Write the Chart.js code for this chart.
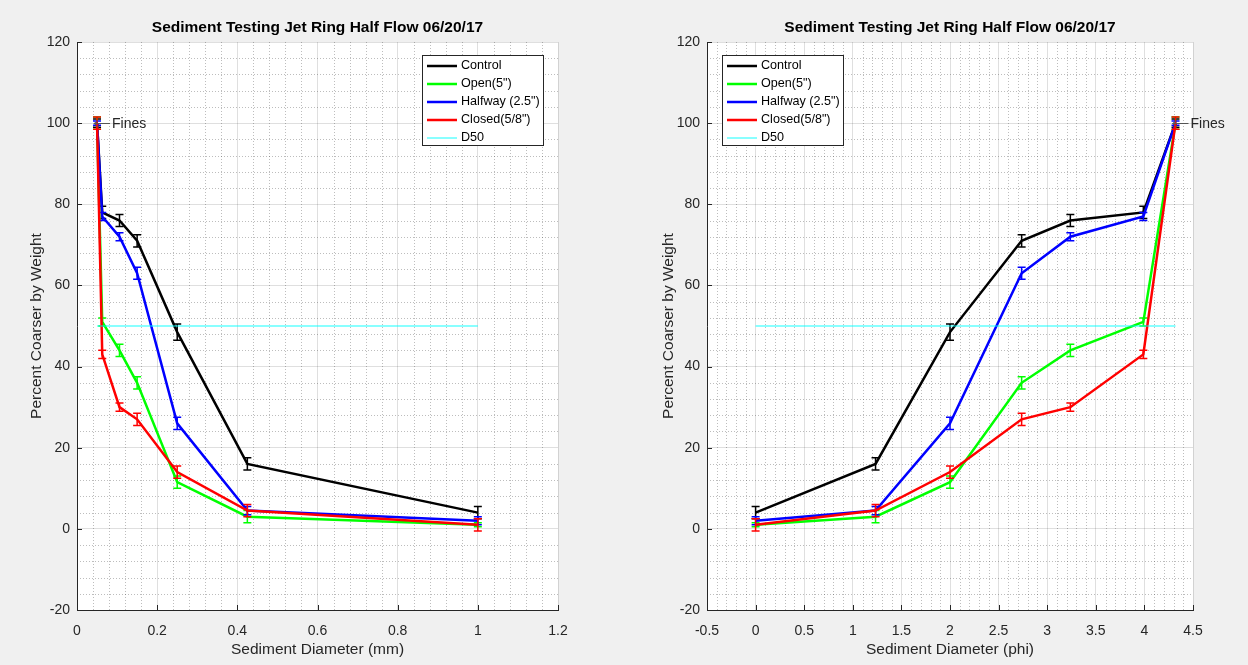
<!DOCTYPE html>
<html>
<head>
<meta charset="utf-8">
<title>Sediment Testing Jet Ring Half Flow 06/20/17</title>
<script src="https://cdn.jsdelivr.net/npm/chart.js@4/dist/chart.umd.min.js"></script>
<style>
  html, body { margin: 0; padding: 0; background: #f0f0f0; }
  #wrap { position: relative; width: 1248px; height: 665px; overflow: hidden; }
  canvas { position: absolute; top: 0; }
  #mmChart { left: 0; }
  #phiChart { left: 624px; }
</style>
</head>
<body>
<div id="wrap">
  <canvas id="mmChart" width="624" height="665" style="width:624px;height:665px"></canvas>
  <canvas id="phiChart" width="624" height="665" style="width:624px;height:665px"></canvas>
</div>
<script>
// Sieve sizes: millimetres and the matching phi values (phi = -log2 d)
const sizeMm  = [1, 0.425, 0.25, 0.15, 0.106, 0.063, 0.05];
const sizePhi = [0, 1.234, 2, 2.737, 3.238, 3.989, 4.32];

// Percent coarser by weight for each jet ring setting
const controlPct = [4, 16, 48.5, 71, 76, 78, 100];
const openPct    = [1, 3, 11.5, 36, 44, 51, 100];
const halfwayPct = [2, 4.5, 26, 63, 72, 77, 100];
const closedPct  = [1, 4.5, 14, 27, 30, 43, 100];

// Error bar half-lengths (percent)
const controlErr = [1.5, 1.5, 2, 1.5, 1.5, 1.5, 1];
const openErr    = [0.5, 1.5, 1.5, 1.5, 1.5, 1, 1.5];
const halfwayErr = [1, 1, 1.5, 1.5, 1, 1, 0.5];
const closedErr  = [1.5, 1.5, 1.5, 1.5, 1, 1, 1.5];

const seriesLabels = ['Control', 'Open(5")', 'Halfway (2.5")', 'Closed(5/8")', 'D50'];
const d50Value = 50;
const chartTitle = 'Sediment Testing Jet Ring Half Flow 06/20/17';

// Axis tick settings
const yTicks   = { min: -20, max: 120, step: 20, minor: 4 };
const mmTicks  = { min: 0, max: 1.2, step: 0.2, minor: 0.04 };
const phiTicks = { min: -0.5, max: 4.5, step: 0.5, minor: 0.1 };

const FONT = "'Liberation Sans', Arial, Helvetica, sans-serif";
const AXIS_COLOR = '#262626';
Chart.defaults.font.family = FONT;

// White plot area on a grey figure background
const plotBg = {
  id: 'plotBg',
  beforeDraw(chart) {
    const { ctx, chartArea: a } = chart;
    ctx.save();
    ctx.fillStyle = '#f0f0f0';
    ctx.fillRect(0, 0, chart.width, chart.height);
    ctx.fillStyle = '#ffffff';
    ctx.fillRect(a.left, a.top, a.right - a.left, a.bottom - a.top);
    ctx.restore();
  }
};

// Bold title centred over the plot area
const axesTitle = {
  id: 'axesTitle',
  afterDraw(chart, args, opts) {
    const { ctx, chartArea: a } = chart;
    ctx.save();
    ctx.font = 'bold 15.5px ' + FONT;
    ctx.fillStyle = '#000000';
    ctx.textAlign = 'center';
    ctx.textBaseline = 'middle';
    ctx.fillText(opts.text, (a.left + a.right) / 2, 28);
    ctx.restore();
  }
};

// Dotted minor grid and inward tick marks
const minorGrid = {
  id: 'minorGrid',
  beforeDatasetsDraw(chart, args, opts) {
    const { ctx, chartArea: a } = chart;
    const xs = chart.scales.x, ys = chart.scales.y;
    ctx.save();
    ctx.strokeStyle = 'rgba(38,38,38,0.3)';
    ctx.lineWidth = 1;
    ctx.setLineDash([1, 2]);
    const each = (scale, minor, major, fn) => {
      const n = Math.round((scale.max - scale.min) / minor);
      for (let i = 0; i <= n; i++) {
        const v = scale.min + i * minor;
        const r = (v - scale.min) / major;
        if (Math.abs(r - Math.round(r)) < 1e-6) continue;
        fn(Math.round(scale.getPixelForValue(v)) + 0.5);
      }
    };
    ctx.beginPath();
    each(xs, opts.xMinor, opts.xMajor, p => { ctx.moveTo(p, a.top); ctx.lineTo(p, a.bottom); });
    each(ys, opts.yMinor, opts.yMajor, p => { ctx.moveTo(a.left, p); ctx.lineTo(a.right, p); });
    ctx.stroke();
    // inward ticks on the left and bottom axes
    ctx.setLineDash([]);
    ctx.strokeStyle = AXIS_COLOR;
    ctx.beginPath();
    xs.ticks.forEach(t => {
      const p = Math.round(xs.getPixelForValue(t.value)) + 0.5;
      ctx.moveTo(p, a.bottom); ctx.lineTo(p, a.bottom - 5);
    });
    ys.ticks.forEach(t => {
      const p = Math.round(ys.getPixelForValue(t.value)) + 0.5;
      ctx.moveTo(a.left, p); ctx.lineTo(a.left + 5, p);
    });
    ctx.stroke();
    ctx.restore();
  }
};

// Vertical error bars with caps, drawn with each series
const errorBars = {
  id: 'errorBars',
  afterDatasetDraw(chart, args) {
    const ds = chart.data.datasets[args.index];
    if (!ds.errors) return;
    const { ctx } = chart;
    const ys = chart.scales.y;
    ctx.save();
    ctx.strokeStyle = ds.borderColor;
    ctx.lineWidth = 1.5;
    ctx.beginPath();
    args.meta.data.forEach((pt, i) => {
      const v = ds.data[i].y, e = ds.errors[i];
      const top = ys.getPixelForValue(v + e), bot = ys.getPixelForValue(v - e);
      ctx.moveTo(pt.x, top); ctx.lineTo(pt.x, bot);
      ctx.moveTo(pt.x - 4, top); ctx.lineTo(pt.x + 4, top);
      ctx.moveTo(pt.x - 4, bot); ctx.lineTo(pt.x + 4, bot);
    });
    ctx.stroke();
    ctx.restore();
  }
};

// Arrow and "Fines" note beside the fines point
const finesNote = {
  id: 'finesNote',
  afterDraw(chart, args, opts) {
    const { ctx } = chart;
    const px = chart.scales.x.getPixelForValue(opts.x);
    const py = Math.round(chart.scales.y.getPixelForValue(opts.y)) + 0.5;
    ctx.save();
    ctx.strokeStyle = '#555555';
    ctx.lineWidth = 1;
    ctx.beginPath();
    ctx.moveTo(px - 3, py); ctx.lineTo(px + 13, py);
    ctx.moveTo(px - 3, py); ctx.lineTo(px + 1, py - 3);
    ctx.moveTo(px - 3, py); ctx.lineTo(px + 1, py + 3);
    ctx.stroke();
    ctx.font = '14px ' + FONT;
    ctx.fillStyle = AXIS_COLOR;
    ctx.textAlign = 'left';
    ctx.textBaseline = 'middle';
    ctx.fillText(opts.text, px + 15, py + 1);
    ctx.restore();
  }
};

// Boxed legend inside the plot area
const boxLegend = {
  id: 'boxLegend',
  afterDraw(chart, args, opts) {
    const { ctx } = chart;
    const x0 = opts.x, y0 = opts.y, w = 121, rowH = 18;
    const items = chart.data.datasets;
    const h = items.length * rowH;
    ctx.save();
    ctx.fillStyle = '#ffffff';
    ctx.fillRect(x0, y0, w, h);
    ctx.strokeStyle = AXIS_COLOR;
    ctx.lineWidth = 1;
    ctx.strokeRect(x0 + 0.5, y0 + 0.5, w, h);
    ctx.font = '12.6px ' + FONT;
    ctx.textBaseline = 'middle';
    ctx.textAlign = 'left';
    items.forEach((ds, i) => {
      const cy = y0 + 11 + i * rowH;
      ctx.strokeStyle = ds.borderColor;
      ctx.lineWidth = ds.borderWidth;
      ctx.beginPath();
      ctx.moveTo(x0 + 5, cy); ctx.lineTo(x0 + 35, cy);
      ctx.stroke();
      ctx.fillStyle = '#000000';
      ctx.fillText(ds.label, x0 + 39, cy);
    });
    ctx.restore();
  }
};

function series(label, color, xs, values, errors, order) {
  return {
    label, borderColor: color, backgroundColor: color,
    data: xs.map((x, i) => ({ x, y: values[i] })),
    errors, borderWidth: 2.5, pointRadius: 0, tension: 0, order
  };
}

function makeChart(id, xs, xTicks, xTitle, cfg) {
  const d50Xs = [Math.min(...xs), Math.max(...xs)];
  const datasets = [
    series(seriesLabels[0], '#000000', xs, controlPct, controlErr, 5),
    series(seriesLabels[1], '#00ff00', xs, openPct, openErr, 4),
    series(seriesLabels[2], '#0000ff', xs, halfwayPct, halfwayErr, 3),
    series(seriesLabels[3], '#ff0000', xs, closedPct, closedErr, 2),
    {
      label: seriesLabels[4], borderColor: 'rgba(0,255,255,0.62)', backgroundColor: 'rgba(0,255,255,0.62)',
      data: d50Xs.map(x => ({ x, y: d50Value })), borderWidth: 1.5, pointRadius: 0, order: 1
    }
  ];
  return new Chart(document.getElementById(id), {
    type: 'line',
    data: { datasets },
    plugins: [plotBg, minorGrid, errorBars, finesNote, boxLegend, axesTitle],
    options: {
      responsive: false,
      animation: false,
      events: [],
      layout: { padding: { left: 0, right: cfg.padRight, top: 42, bottom: 0 } },
      plugins: {
        legend: { display: false },
        tooltip: { enabled: false },
        title: { display: false },
        axesTitle: { text: chartTitle },
        minorGrid: { xMinor: xTicks.minor, xMajor: xTicks.step, yMinor: yTicks.minor, yMajor: yTicks.step },
        finesNote: { x: xs[xs.length - 1], y: 100, text: 'Fines' },
        boxLegend: { x: cfg.legendX, y: 55 }
      },
      scales: {
        x: {
          type: 'linear', position: 'bottom',
          min: xTicks.min, max: xTicks.max,
          afterFit(s) { s.height = 55; },
          ticks: {
            stepSize: xTicks.step, color: AXIS_COLOR, font: { size: 14 }, padding: 13,
            maxRotation: 0, autoSkip: false,
            callback: v => String(Math.round(v * 100) / 100)
          },
          grid: { color: 'rgba(38,38,38,0.15)', lineWidth: 1, drawTicks: false },
          border: { display: true, color: AXIS_COLOR, width: 1 },
          title: { display: true, text: xTitle, color: AXIS_COLOR, font: { size: 15.5 }, padding: { top: 0, bottom: 5.7 } }
        },
        y: {
          type: 'linear', position: 'left',
          min: yTicks.min, max: yTicks.max,
          afterFit(s) { s.width = cfg.yWidth; },
          ticks: {
            stepSize: yTicks.step, color: AXIS_COLOR, font: { size: 14 }, padding: 7,
            callback: v => String(v)
          },
          grid: { color: 'rgba(38,38,38,0.15)', lineWidth: 1, drawTicks: false },
          border: { display: true, color: AXIS_COLOR, width: 1 },
          title: { display: true, text: 'Percent Coarser by Weight', color: AXIS_COLOR, font: { size: 15.5 }, padding: { top: cfg.yTitlePad, bottom: 0 } }
        }
      }
    }
  });
}

makeChart('mmChart', sizeMm, mmTicks, 'Sediment Diameter (mm)',
  { padRight: 66, yWidth: 77, yTitlePad: 27.5, legendX: 422 });
makeChart('phiChart', sizePhi, phiTicks, 'Sediment Diameter (phi)',
  { padRight: 55, yWidth: 83, yTitlePad: 35.5, legendX: 98 });
</script>
</body>
</html>
